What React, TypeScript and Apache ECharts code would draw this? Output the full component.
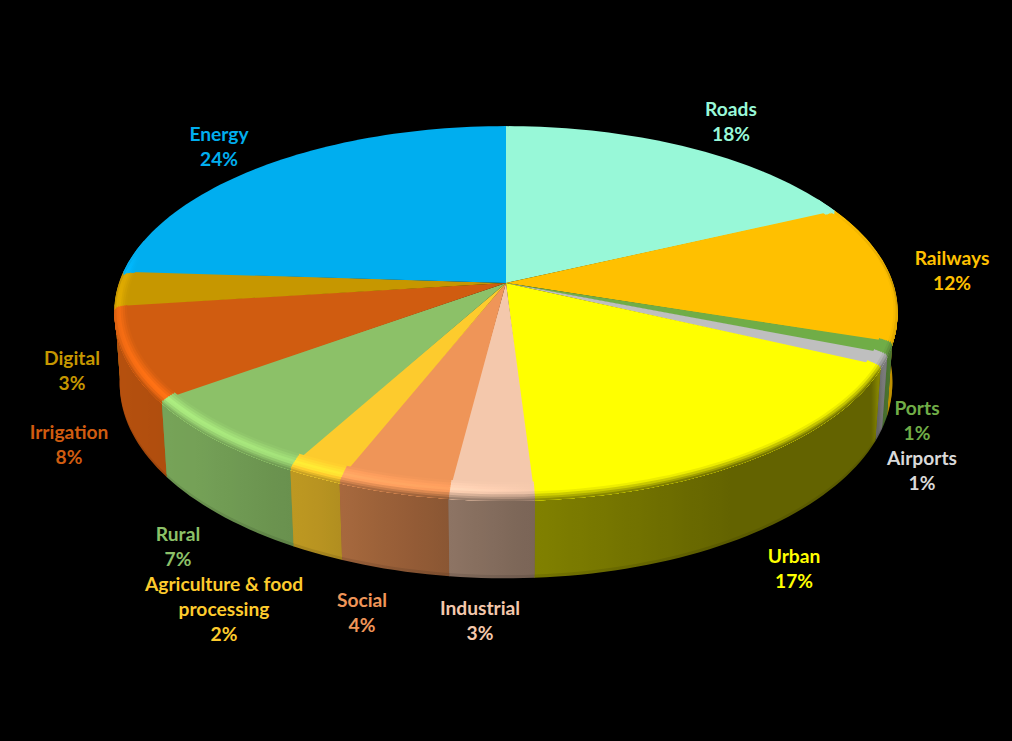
import React, { useEffect, useRef } from "react";
import * as echarts from "echarts";

const categories = ["Roads", "Railways", "Ports", "Airports", "Urban", "Industrial", "Social", "Agriculture & food\nprocessing", "Rural", "Irrigation", "Digital", "Energy"];
const values = [18, 12, 1, 1, 17, 3, 4, 2, 7, 8, 3, 24];
const baseColors = ["#98F8D8", "#FFC000", "#70AD47", "#BFBFBF", "#FFFF00", "#F4C8AC", "#EF9558", "#FDCB2D", "#8CC168", "#D05C10", "#C69700", "#00AEEF"];
const labelColors = ["#98F8D8", "#FFC000", "#70AD47", "#D9D9D9", "#FFFF00", "#F4C8AC", "#EF9558", "#FDCB2D", "#8CC168", "#D05C10", "#C69700", "#00AEEF"];
const labelCenters = [[731, 121], [952, 270], [917, 420], [922, 470], [794, 568], [480, 620], [362, 612], [224, 608], [178, 546], [69, 444], [72, 370], [219, 146]];

// perspective of the disc
const CX = 506, CY = 283, A = 387, B = 181, K = 0.1536, M = 0.0137, H = 73;
// shading, by clockwise angle from 12 o'clock
const wallShade = [[60, 0.8], [90, 0.75], [105, 0.72], [113, 0.62], [118, 0.39], [150, 0.39], [178, 0.51], [190, 0.6], [205, 0.73], [225, 0.83], [250, 0.87], [300, 0.87]];
const rimShade = [[60, 1], [80, 0.9], [90, 0.75], [105, 0.72], [113, 0.62], [118, 0.39], [150, 0.39], [178, 0.51], [190, 0.6], [205, 0.73], [225, 0.83], [250, 0.87], [270, 0.95], [282, 1]];
const glow = [[175, 0], [187, 0.1], [200, 0.16], [215, 0.22], [235, 0.27], [255, 0.18], [272, 0.15], [282, 0]];

const lerpTable = (t: number[][], x: number) => {
  if (x <= t[0][0]) return t[0][1];
  for (let i = 1; i < t.length; i++) {
    if (x <= t[i][0]) {
      const s = (x - t[i - 1][0]) / (t[i][0] - t[i - 1][0]);
      return t[i - 1][1] + (t[i][1] - t[i - 1][1]) * s;
    }
  }
  return t[t.length - 1][1];
};
const project = (u: number, v: number, z: number) => {
  const w = 1 - K * v - M * z;
  return [CX + (A * u) / w, CY + (B * v - H * z) / w];
};
const rgb = (hex: string) => [1, 3, 5].map((i) => parseInt(hex.slice(i, i + 2), 16));
const css = (c: number[]) => `rgb(${c.map((x) => Math.max(0, Math.min(255, Math.round(x)))).join(",")})`;
const mul = (c: number[], f: number) => c.map((x) => x * f);
const mix = (a: number[], b: number[], s: number) => a.map((x, i) => x + (b[i] - x) * s);
const rad = (d: number) => (d * Math.PI) / 180;

const total = values.reduce((a, b) => a + b, 0);
const STEP = 1.5;
const DU = 0.031, DV = 0.06, ZB = 0.05;
const BANDS = 8;

const arcPoint = (d: number, z: number) => project(Math.sin(rad(d)), -Math.cos(rad(d)), z);
// position across the rim band: inner edge of the top face to just under the lip
const bandPoint = (d: number, p: number) => {
  const s = Math.sin(rad(d)), c = Math.cos(rad(d));
  if (p <= 0.75) {
    const q = 1 - p / 0.75;
    return project(s * (1 - DU * q), -c * (1 - DV * q), 0);
  }
  return project(s, -c, -ZB * ((p - 0.75) / 0.25));
};
// horizontal gradient following a colour that changes with the angle
const xGradient = (angles: number[], xOf: (d: number) => number, colorOf: (d: number) => number[]) => {
  const first = xOf(angles[0]), last = xOf(angles[angles.length - 1]);
  const dir = last >= first ? 1 : -1;
  const kept: number[][] = [];
  let extreme = -Infinity;
  angles.forEach((d) => {
    const x = xOf(d) * dir;
    if (x > extreme) {
      extreme = x;
      kept.push([x * dir, d]);
    }
  });
  const x0 = kept[0][0], x1 = kept[kept.length - 1][0];
  if (Math.abs(x1 - x0) < 0.5) return css(colorOf(angles[0]));
  const stops = kept.map(([x, d]) => ({ offset: (x - x0) / (x1 - x0), color: css(colorOf(d)) }));
  return new echarts.graphic.LinearGradient(x0, 0, x1, 0, stops, true);
};

const renderItem = (params: any, api: any) => {
  const idx = params.dataIndex;
  const val = api.value(0);
  let before = 0;
  for (let i = 0; i < idx; i++) before += values[i];
  const a0 = (before / total) * 360;
  const a1 = ((before + val) / total) * 360;
  const base = rgb(baseColors[idx]);
  const n = Math.max(2, Math.ceil((a1 - a0) / STEP));
  const angles: number[] = [];
  for (let i = 0; i <= n; i++) angles.push(a0 + ((a1 - a0) * i) / n);
  const children: any[] = [];
  const midV = -Math.cos(rad((a0 + a1) / 2));

  // side wall
  const wallAngles = angles.filter((d) => -Math.cos(rad(d)) > -0.25);
  if (wallAngles.length > 1) {
    const lo = wallAngles[0] - 0.04, hi = wallAngles[wallAngles.length - 1] + 0.04;
    const ext = [lo, ...wallAngles, hi];
    const wallCol = (d: number) => mul(base, lerpTable(wallShade, d));
    const xOf = (d: number) => arcPoint(d, -0.5)[0];
    const band = (z0: number, z1: number) => [...ext.map((d) => arcPoint(d, z0)), ...ext.slice().reverse().map((d) => arcPoint(d, z1))];
    children.push({ type: "polygon", z2: 100 + midV * 50, shape: { points: band(-0.02, -1) }, style: { fill: xGradient(ext, xOf, (d) => mul(wallCol(d), 0.9)) } });
    children.push({ type: "polygon", z2: 100.2 + midV * 50, shape: { points: band(-0.02, -0.96) }, style: { fill: xGradient(ext, xOf, wallCol) } });
  }

  // top face; each slice runs a little under the next one
  const faceAngles = [idx === 0 ? a0 - 0.3 : a0, ...angles.slice(1), a1 + (idx === values.length - 1 ? 0 : 0.3)];
  const face = [project(0, 0, 0), ...faceAngles.map((d) => arcPoint(d, 0))];
  children.push({ type: "polygon", z2: 300 + idx, shape: { points: face }, style: { fill: baseColors[idx] } });

  // soft rim, painted from the inside out
  const rimAngles = angles.filter((d) => d >= 60 && d <= 285);
  if (rimAngles.length > 1) {
    const ext = [rimAngles[0] - 0.04, ...rimAngles, rimAngles[rimAngles.length - 1] + 0.04];
    for (let b = 0; b < BANDS; b++) {
      const p0 = b / BANDS, pm = (b + 0.5) / BANDS;
      const col = (d: number) => {
        const peak = mul(base, 1 + lerpTable(glow, d));
        const outer = mul(base, lerpTable(rimShade, d));
        return pm < 0.5 ? mix(base, peak, pm / 0.5) : mix(peak, outer, (pm - 0.5) / 0.5);
      };
      const pts = [...ext.map((d) => bandPoint(d, p0)), ...ext.slice().reverse().map((d) => bandPoint(d, 1))];
      children.push({
        type: "polygon",
        z2: 400 + b + idx * 0.01,
        shape: { points: pts },
        style: { fill: xGradient(ext, (d) => arcPoint(d, 0)[0], col) },
      });
    }
  }

  // label
  const pct = Math.round((val / total) * 100) + "%";
  children.push({
    type: "text",
    z2: 600,
    x: labelCenters[idx][0],
    y: labelCenters[idx][1],
    style: {
      text: categories[idx] + "\n" + pct,
      fill: labelColors[idx],
      font: 'bold 19.2px Lato, "Open Sans", sans-serif',
      lineHeight: 25,
      align: "center",
      verticalAlign: "middle",
    },
  });
  return { type: "group", children };
};

export default function App() {
  const ref = useRef<HTMLDivElement>(null);
  useEffect(() => {
    document.body.style.margin = "0";
    document.body.style.background = "#000";
    const chart = echarts.init(ref.current!, undefined, { renderer: "svg" });
    chart.setOption({
      animation: false,
      backgroundColor: "#000000",
      series: [
        {
          type: "custom",
          coordinateSystem: "none",
          silent: true,
          renderItem,
          data: values.map((v) => [v]),
          dimensions: ["share"],
          encode: { value: 0 },
        },
      ],
    });
    return () => chart.dispose();
  }, []);
  return <div ref={ref} style={{ width: 1012, height: 741 }} />;
}
